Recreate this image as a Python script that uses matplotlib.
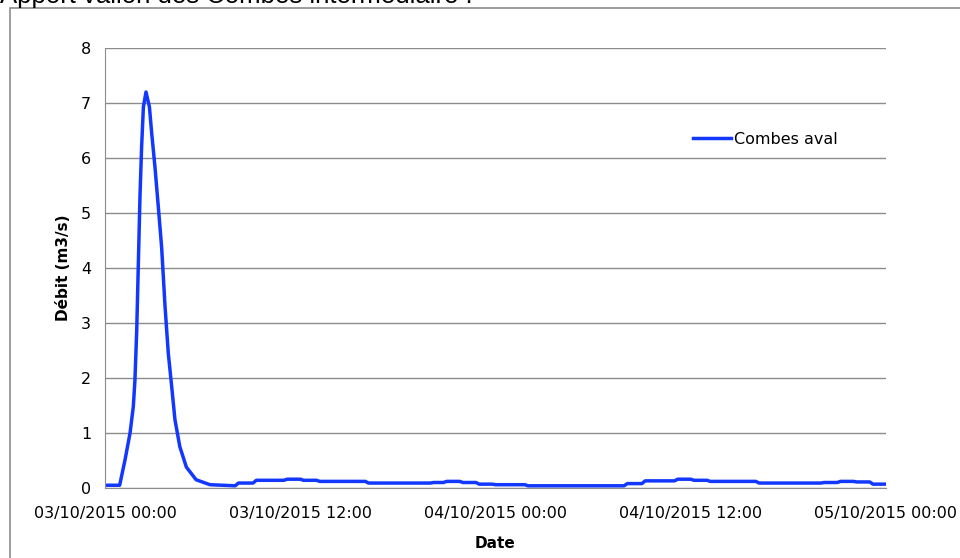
import numpy as np
import pandas as pd
import matplotlib
matplotlib.use("Agg")
import matplotlib.pyplot as plt
import matplotlib.dates as mdates
from matplotlib.patches import Rectangle

# hours since 03/10/2015 00:00 and discharge (m3/s)
heures = [0.0, 0.9, 1.23, 1.54, 1.74, 1.84, 1.95, 2.05, 2.15, 2.25, 2.36, 2.52,
          2.73, 2.87, 3.07, 3.28, 3.48, 3.69, 3.89, 4.1, 4.3, 4.6, 5.0, 5.6, 6.45,
          8.0, 8.2, 9.1, 9.3, 11.0, 11.2, 12.0, 12.2, 13.0, 13.2, 16.0, 16.2,
          20.0, 20.2, 20.8, 21.0, 21.8, 22.0, 22.8, 23.0, 23.8, 24.0, 25.8, 26.0,
          31.9, 32.1, 33.0, 33.2, 35.0, 35.2, 36.0, 36.2, 37.0, 37.2, 40.0, 40.2,
          44.0, 44.2, 45.0, 45.2, 46.0, 46.2, 47.0, 47.2, 48.0]
debit = [0.05, 0.05, 0.51, 1.0, 1.48, 1.96, 2.87, 4.09, 5.3, 6.2, 6.93, 7.2,
         6.93, 6.45, 5.84, 5.1, 4.38, 3.3, 2.45, 1.84, 1.24, 0.75, 0.38, 0.15, 0.06,
         0.04, 0.09, 0.09, 0.14, 0.14, 0.16, 0.16, 0.14, 0.14, 0.12, 0.12, 0.09,
         0.09, 0.10, 0.10, 0.12, 0.12, 0.10, 0.10, 0.07, 0.07, 0.06, 0.06, 0.04,
         0.04, 0.08, 0.08, 0.13, 0.13, 0.16, 0.16, 0.14, 0.14, 0.12, 0.12, 0.09,
         0.09, 0.10, 0.10, 0.12, 0.12, 0.11, 0.11, 0.07, 0.07]

debut = pd.Timestamp("2015-10-03 00:00")
dates = [debut + pd.Timedelta(hours=h) for h in heures]

police = ['DejaVu Sans']

fig = plt.figure(figsize=(9.6, 5.58), dpi=100)
ax = fig.add_axes([105/960, 1 - 488/558, 781/960, 440/558])

ax.plot(dates, debit, color='#1238FF', linewidth=2.5, label='Combes aval',
        solid_joinstyle='round')

ax.set_xlim(debut, debut + pd.Timedelta(hours=48))
ax.set_ylim(0, 8)
ax.set_yticks(range(0, 9))
ax.xaxis.set_major_locator(mdates.HourLocator(byhour=[0, 12]))
ax.xaxis.set_major_formatter(mdates.DateFormatter('%d/%m/%Y %H:%M'))

ax.grid(True, axis='y', color='#8c8c8c', linewidth=1.0)
ax.set_axisbelow(True)
for s in ['top', 'right']:
    ax.spines[s].set_visible(False)
for s in ['left', 'bottom']:
    ax.spines[s].set_color('#8c8c8c')
ax.tick_params(length=0, labelsize=11.5)
ax.tick_params(axis='x', pad=13)
ax.tick_params(axis='y', pad=10)

ax.set_xlabel('Date', fontweight='bold', fontsize=11, family=police, labelpad=11)
ax.set_ylabel('Débit (m3/s)', fontweight='bold', fontsize=11, family=police, labelpad=7)

leg = ax.legend(loc='center left', bbox_to_anchor=(0.753, 0.793), frameon=False,
                handlelength=2.4, handletextpad=0.15, borderpad=0, borderaxespad=0,
                prop={'family': police, 'size': 11.5})

fig.patches.append(Rectangle((10/960, -0.1), 1.2, 1 - 8/558 + 0.1, transform=fig.transFigure,
                             fill=False, edgecolor='#8c8c8c', linewidth=1.2))
fig.text(0.0, 1 - 3/558, 'Apport vallon des Combes intermédiaire :', fontsize=18.5,
         family=['Liberation Sans', 'DejaVu Sans'], va='baseline', ha='left')

fig.savefig('out.png', dpi=100, facecolor='white')
